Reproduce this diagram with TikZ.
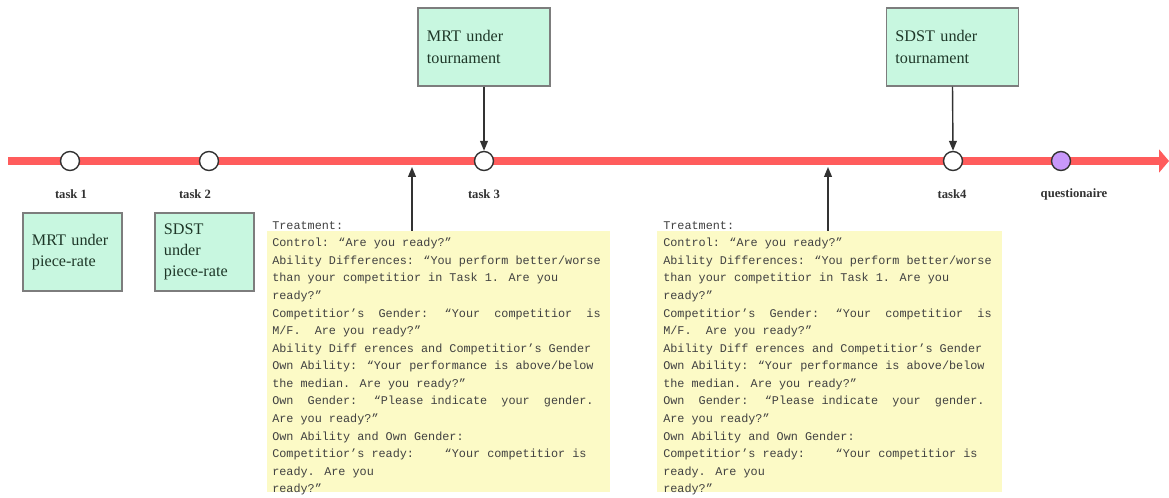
\documentclass[tikz,border=0pt]{standalone}
\usepackage{fontspec}
\setmainfont{Liberation Serif}
\newfontfamily\monofont{Liberation Mono}
\usetikzlibrary{arrows.meta}

\definecolor{linered}{RGB}{255,92,92}
\definecolor{boxgreen}{RGB}{200,247,224}
\definecolor{boxgray}{RGB}{125,125,125}
\definecolor{notepaper}{RGB}{252,250,198}
\definecolor{darkline}{RGB}{50,50,50}
\definecolor{darktext}{RGB}{30,55,40}
\definecolor{notetextgray}{RGB}{65,65,65}
\definecolor{qpurple}{RGB}{200,152,250}

\newcommand{\treatmenttext}{%
Treatment:\\
Control: “Are you ready?”\\
Ability Differences: “You perform better/worse\\
than your competitior in Task 1. Are you\\
ready?”\\
Competitior’s~ Gender:~ “Your~ competitior~ is\\
M/F.~ Are you ready?”\\
Ability Diff erences and Competitior’s Gender\\
Own Ability: “Your performance is above/below\\
the median. Are you ready?”\\
Own~ Gender:~ “Please indicate~ your~ gender.\\
Are you ready?”\\
Own Ability and Own Gender:\\
Competitior’s ready:~~~ “Your competitior is\\
ready. Are you\\
ready?”}

\tikzset{
    task/.style={circle, draw=darkline, line width=1pt, fill=white,
        minimum size=0.475cm, inner sep=0pt},
    tasklabel/.style={font=\fontsize{9}{11}\selectfont\bfseries, text=darkline},
    stagebox/.style={draw=boxgray, line width=1pt, fill=boxgreen, text=darktext,
        font=\fontsize{11.5}{15}\selectfont, align=left, inner xsep=0.225cm,
        inner ysep=0pt, minimum height=1.95cm},
    notebox/.style={fill=notepaper, inner sep=0pt},
    notetext/.style={font=\monofont\fontsize{8.4}{12.5}\selectfont, text=notetextgray,
        align=left, inner sep=0pt, anchor=north west},
    pointer/.style={draw=darkline, line width=1pt, -{Triangle[length=7pt,width=5.5pt]}},
}

\begin{document}
\begin{tikzpicture}[x=0.025cm, y=-0.025cm]

    \useasboundingbox (0,0) rectangle (1169,498);

    % 时间轴
    \coordinate (axisstart) at (8,161);
    \coordinate (axisend) at (1169,161);
    \draw[linered, line width=5pt, -{Triangle[length=7pt,width=16pt]}] (axisstart) -- (axisend);

    % 任务节点
    \node[task] (t1) at (70,161) {};
    \node[task] (t2) at (209,161) {};
    \node[task] (t3) at (484,161) {};
    \node[task] (t4) at (953,161) {};
    \node[task, fill=qpurple, draw=black!80] (tq) at (1061,161) {};

    % 节点下方文字
    \node[tasklabel] (l1) at (71,194) {task 1};
    \node[tasklabel] (l2) at (195,194) {task 2};
    \node[tasklabel] (l3) at (484,194) {task 3};
    \node[tasklabel] (l4) at (952,194) {task4};
    \node[tasklabel] (lq) at (1074,194) {questionaire};

    % 绿色方框
    \node[stagebox, text width=2.025cm] (mrtpiece) at (72.5,252) {MRT under\\piece-rate};
    \node[stagebox, text width=2.025cm] (sdstpiece) at (204.5,252) {SDST\\under\\piece-rate};
    \node[stagebox, text width=2.85cm] (mrttour) at (484,47) {MRT under\\tournament};
    \node[stagebox, text width=2.85cm] (sdsttour) at (952.5,47) {SDST under\\tournament};

    % 黄色说明框
    \node[notebox, minimum width=8.575cm, minimum height=6.525cm] (note1) at (438.5,361.5) {};
    \node[notebox, minimum width=8.625cm, minimum height=6.525cm] (note2) at (829.5,361.5) {};
    \node[notetext] (txt1) at (272,221) {\treatmenttext};
    \node[notetext] (txt2) at (663,221) {\treatmenttext};

    % 箭头
    \draw[pointer] (mrttour.south) -- (t3.north);
    \draw[pointer] (sdsttour.south) -- (t4.north);
    \coordinate (up1) at (412,167);
    \coordinate (up2) at (828,167);
    \draw[pointer] (up1 |- note1.north) -- (up1);
    \draw[pointer] (up2 |- note2.north) -- (up2);

\end{tikzpicture}
\end{document}
